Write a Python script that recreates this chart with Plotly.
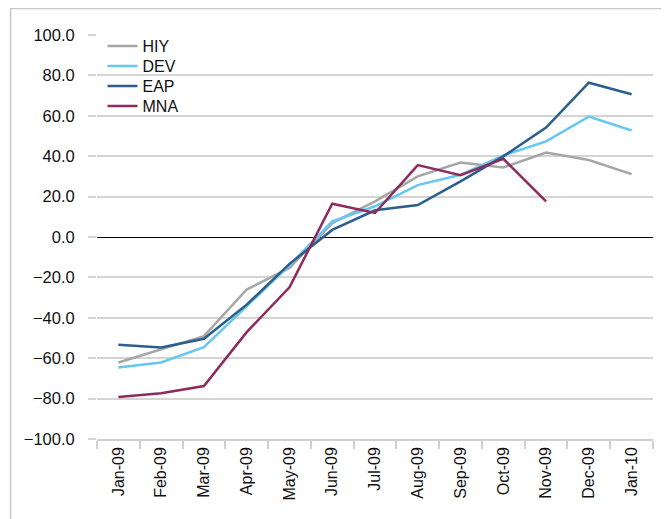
import plotly.graph_objects as go

months = ["Jan-09", "Feb-09", "Mar-09", "Apr-09", "May-09", "Jun-09", "Jul-09",
          "Aug-09", "Sep-09", "Oct-09", "Nov-09", "Dec-09", "Jan-10"]

hiy = [-62.1, -55.7, -49.1, -26.0, -15.3, 6.9, 17.6, 30.0, 36.9, 34.4, 41.8, 38.1, 31.1]
dev = [-64.6, -62.1, -54.5, -34.0, -14.0, 7.7, 15.2, 25.7, 30.8, 40.4, 47.3, 59.6, 52.7]
eap = [-53.4, -54.7, -50.4, -33.5, -13.3, 3.5, 13.2, 15.8, 27.5, 39.9, 54.2, 76.4, 70.7]
mna = [-79.2, -77.4, -73.8, -47.1, -24.9, 16.5, 11.9, 35.6, 30.6, 38.7, 17.6, None, None]

series = [
    ("HIY", hiy, "#A6A6A6"),
    ("DEV", dev, "#66C7F0"),
    ("EAP", eap, "#2B5E8C"),
    ("MNA", mna, "#8E2A5C"),
]

font_family = "Liberation Sans, Arial, Helvetica, sans-serif"

# page body adds an 8px offset; figure is sized to fill the rest of the window
OFF = 8
W, H = 669 - OFF, 519 - OFF
L, R, T, B = 88.5, 16, 27, 80
pw, ph = W - L - R, H - T - B


def px_x(p):
    return (p - OFF - L) / pw


def px_y(p):
    return (H - B - (p - OFF)) / ph


legend_rows = [46, 66, 86, 106]
legend_names = ["legend", "legend2", "legend3", "legend4"]

fig = go.Figure()
for (name, vals, color), lg in zip(series, legend_names):
    fig.add_trace(go.Scatter(
        x=months, y=vals, name=name, mode="lines",
        line=dict(color=color, width=2.5),
        connectgaps=False, legend=lg,
    ))

legend_layout = {}
for lg, row in zip(legend_names, legend_rows):
    legend_layout[lg] = dict(
        x=px_x(102), y=px_y(row), xanchor="left", yanchor="middle",
        bgcolor="rgba(0,0,0,0)", borderwidth=0,
        font=dict(size=16, family=font_family, color="#111111"),
        itemwidth=30,
    )

fig.update_layout(
    width=W, height=H,
    margin=dict(l=L, r=R, t=T, b=B, pad=0),
    paper_bgcolor="white", plot_bgcolor="white",
    font=dict(family=font_family, size=16, color="#111111"),
    showlegend=True,
    xaxis=dict(
        type="category", range=[-0.5, len(months) - 0.5],
        tickson="boundaries", ticks="outside", ticklen=8,
        tickcolor="#D0D0D0", tickwidth=1.5,
        showline=True, linecolor="#D0D0D0", linewidth=1.5,
        showgrid=False, tickangle=-90,
        tickfont=dict(size=16, family=font_family),
    ),
    yaxis=dict(
        range=[-100, 100], dtick=20, tickformat=".1f",
        ticks="outside", ticklen=8, tickcolor="#D4D4D4", tickwidth=1.5,
        showgrid=True, gridcolor="#D4D4D4", gridwidth=1.5,
        zeroline=True, zerolinecolor="#000000", zerolinewidth=1.2,
        showline=False, ticklabelstandoff=10,
        tickfont=dict(size=16.5, family=font_family),
    ),
    shapes=[
        dict(type="line", xref="paper", yref="paper",
             x0=px_x(10), x1=px_x(10), y0=px_y(8), y1=px_y(530),
             line=dict(color="#C8C8C8", width=1.5)),
        dict(type="line", xref="paper", yref="paper",
             x0=px_x(10), x1=px_x(680), y0=px_y(8.5), y1=px_y(8.5),
             line=dict(color="#C8C8C8", width=1.5)),
    ],
    **legend_layout,
)

fig.write_html("out.html")
